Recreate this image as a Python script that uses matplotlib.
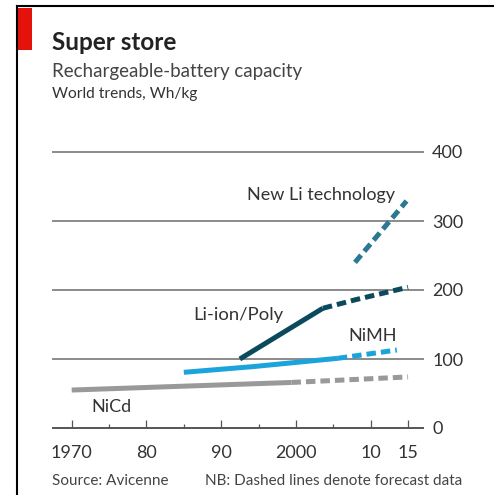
import matplotlib
matplotlib.use("Agg")
import matplotlib.pyplot as plt
from matplotlib.ticker import FixedLocator

plt.rcParams['font.family'] = ['Lato', 'DejaVu Sans']

# ---- data ----
nicd_solid_x = [1970, 1999.4]
nicd_solid_y = [55, 66]
nicd_fc_x = [1999.4, 2015]
nicd_fc_y = [66, 74]

nimh_solid_x = [1985, 1994.3, 2005.6]
nimh_solid_y = [80.7, 89, 101]
nimh_fc_x = [2005.6, 2013.5]
nimh_fc_y = [101, 113]

liion_solid_x = [1992.5, 2003.6]
liion_solid_y = [100, 173.5]
liion_fc_x = [2003.6, 2008, 2015]
liion_fc_y = [173.5, 186, 204]

newli_fc_x = [2007.9, 2014.8]
newli_fc_y = [240, 329]

y_ticks = [0, 100, 200, 300, 400]
x_ticks = [1970, 1980, 1990, 2000, 2010, 2015]
x_labels = ["1970", "80", "90", "2000", "10", "15"]
x_minor = [1975, 1985, 1995, 2005]

W, H = 494, 495
fig = plt.figure(figsize=(W / 100, H / 100), dpi=100)
fig.patch.set_facecolor('white')

# frame lines (left + top)
fig.add_artist(plt.Line2D([17 / W, 17 / W], [0, 1 - 6 / H], color='black', lw=1.5))
fig.add_artist(plt.Line2D([17 / W, 1], [1 - 6 / H, 1 - 6 / H], color='black', lw=1.5))
# red tab
fig.add_artist(plt.Rectangle((18 / W, 1 - 50 / H), 14 / W, 42 / H, color='#e3120b', lw=0))

ax = fig.add_axes([53 / W, 1 - 428 / H, 370 / W, 276 / H])
ax.set_xlim(1967.5, 2017)
ax.set_ylim(0, 400)
for s in ax.spines.values():
    s.set_visible(False)

for v in y_ticks:
    ax.axhline(v, color='#555555' if v == 0 else '#8a8a8a', lw=1.4, clip_on=False, zorder=1)

lw = 3.6
cap = 'butt'
dsh = (1.9, 1.0)
ax.plot(nicd_solid_x, nicd_solid_y, color='#999999', lw=lw, solid_capstyle=cap, clip_on=False, zorder=3)
ax.plot(nicd_fc_x, nicd_fc_y, color='#999999', lw=lw, dashes=dsh, dash_capstyle=cap, clip_on=False, zorder=3)
ax.plot(nimh_solid_x, nimh_solid_y, color='#1ba4dc', lw=lw, solid_capstyle=cap, clip_on=False, zorder=4)
ax.plot(nimh_fc_x, nimh_fc_y, color='#1ba4dc', lw=lw, dashes=dsh, dash_capstyle=cap, clip_on=False, zorder=4)
ax.plot(liion_solid_x, liion_solid_y, color='#0b4a5c', lw=lw, solid_capstyle=cap, clip_on=False, zorder=5)
ax.plot(liion_fc_x, liion_fc_y, color='#0b4a5c', lw=lw, dashes=dsh, dash_capstyle=cap, clip_on=False, zorder=5)
ax.plot(newli_fc_x, newli_fc_y, color='#2a7891', lw=lw, dashes=dsh, dash_capstyle=cap, clip_on=False, zorder=5)

# ticks
ax.yaxis.tick_right()
ax.set_yticks(y_ticks)
ax.set_yticklabels([str(v) for v in y_ticks])
ax.tick_params(axis='y', length=0, pad=6.5, labelsize=13, labelcolor='#333333')
ax.set_xticks(x_ticks)
ax.set_xticklabels(x_labels)
ax.xaxis.set_minor_locator(FixedLocator(x_minor))
ax.tick_params(axis='x', which='major', direction='in', length=6, width=0.9, color='#555555',
               pad=12.5, labelsize=13, labelcolor='#333333')
ax.tick_params(axis='x', which='minor', direction='in', length=3.2, width=0.9, color='#555555')

# series labels
tc = '#333333'
ax.text(2013.3, 337, "New Li technology", ha='right', va='center', fontsize=13, color=tc)
ax.text(1986.3, 164, "Li-ion/Poly", ha='left', va='center', fontsize=13.3, color=tc)
ax.text(2013.5, 133, "NiMH", ha='right', va='center', fontsize=13, color=tc)
ax.text(1972.7, 30, "NiCd", ha='left', va='center', fontsize=13, color=tc)

# titles
fig.text(52 / W, 1 - 50 / H, "Super store", fontsize=17.5, fontweight='bold', color='#222222', va='baseline')
fig.text(52 / W, 1 - 77 / H, "Rechargeable-battery capacity", fontsize=13.5, color='#444444', va='baseline')
fig.text(52 / W, 1 - 98 / H, "World trends, Wh/kg", fontsize=11.2, color='#333333', va='baseline')
fig.text(52 / W, 1 - 485 / H, "Source: Avicenne", fontsize=11, color='#444444', va='baseline')
fig.text(205 / W, 1 - 485 / H, "NB: Dashed lines denote forecast data", fontsize=11, color='#444444', va='baseline')

fig.savefig("out.png", dpi=100, facecolor='white')
